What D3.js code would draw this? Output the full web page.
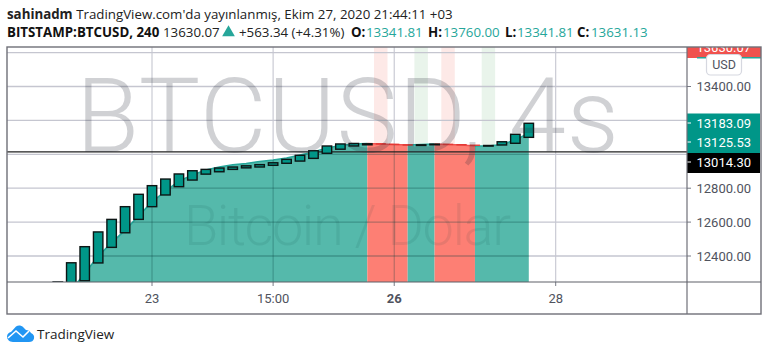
<!DOCTYPE html>
<html><head><meta charset="utf-8">
<script src="https://cdnjs.cloudflare.com/ajax/libs/d3/7.8.5/d3.min.js"></script>
<style>html,body{margin:0;padding:0;background:#fff}svg{display:block}</style>
</head><body><svg id="c" width="768" height="354"></svg>
<script>
// Candle opens (one per 4h bar, index 0 .. 35)
const opens = [12245,12240,12254,12359,12451,12537,12616,12691,12760,12809,12848,12883,12897,12911,12920,12925,12935,12947,12960,12976,13006,13030,13049,13056,13063,13060,13057,13052,13056,13060,13058,13055,13049,13055,13065,13100];
// Candle closes
const closes = [12247,12360,12455,12542,12616,12691,12764,12815,12854,12884,12903,12911,12919,12925,12932,12939,12950,12970,12994,13021,13049,13061,13064,13062,13060,13057,13054,13056,13060,13058,13055,13052,13052,13074,13118,13183];
// Underlying area series
const areaValues = [12100,12199,12297,12400,12477,12553,12636,12719,12783,12842,12878,12907,12925,12938,12946,12958,12966,12978,12996,13014,13037,13052,13061,13064,13061,13058,13055,13058,13061,13058,13055,13049,13049,13058,13084,13125];
// Colour segments of the area, in bar indices
const segStarts = [0,23,26,28,31];
const segEnds = [23,26,28,31,35];
const segColors = ["#55b9ab","#fd7f74","#55b9ab","#fd7f74","#55b9ab"];
// Pale full-height columns
const columnIdx = [24,27,29,32];
const columnColors = ["#fde9e7","#e9f4eb","#fde9e7","#e9f4eb"];
const redBars = [24,25,26,29,30,31];
// Axes
const priceTicks = [13400,12800,12600,12400];
const gridPrices = [13600,13400,13200,13000,12800,12600,12400];
const xTickIdx = [7,16,25,37];
const xTickLabels = ["23","15:00","26","28"];
const lastPriceLabels = ["13183.09","13125.53"];
const closeLine = 13014.30;

const L=7,R=687,T=47,B=282,FR=761,FB=314;
const svg=d3.select("#c");
const RB="Roboto, sans-serif", SANS="'Open Sans','Noto Sans',sans-serif";
const x=d3.scaleLinear().domain([7,37]).range([152,555.7]);
const y=d3.scaleLinear().domain([12400,13400]).range([256,86.5]);
const defs=svg.append("defs");
defs.append("clipPath").attr("id","plot").append("rect").attr("x",L).attr("y",T).attr("width",R-L).attr("height",B-T);
const plot=svg.append("g").attr("clip-path","url(#plot)");
const step=x(1)-x(0);

// pale columns
plot.selectAll(".col").data(columnIdx).join("rect").attr("x",d=>x(d)-step/2).attr("width",step)
 .attr("y",T).attr("height",B-T).attr("fill",(d,i)=>columnColors[i]);
// grid under area is re-tinted by using a translucent line on top
const gridLine=(g,c)=>{
 g.selectAll(".h").data(gridPrices).join("line").attr("x1",L).attr("x2",R).attr("y1",d=>y(d)).attr("y2",d=>y(d)).attr("stroke",c).attr("stroke-width",1.3);
 g.selectAll(".v").data(xTickIdx).join("line").attr("x1",d=>x(d)).attr("x2",d=>x(d)).attr("y1",T).attr("y2",B).attr("stroke",c).attr("stroke-width",1.1);
};
plot.append("g").call(gridLine,"#c5c6d0");
// area
const area=d3.area().x((d,i)=>x(d.i)).y0(B).y1(d=>y(d.v));
const pts=areaValues.map((v,i)=>({i,v}));
segStarts.forEach((s,k)=>{
 plot.append("path").datum(pts.filter(p=>p.i>=s&&p.i<=segEnds[k])).attr("d",area).attr("fill",segColors[k]);
});
// area top edge
const line=d3.line().x(d=>x(d.i)).y(d=>y(d.v));
plot.append("path").datum(pts.filter(p=>p.i<=23)).attr("d",line).attr("fill","none").attr("stroke","#26a69a").attr("stroke-width",1.6);
segStarts.slice(1).forEach((s,k)=>{
 plot.append("path").datum(pts.filter(p=>p.i>=s&&p.i<=segEnds[k+1])).attr("d",line).attr("fill","none")
  .attr("stroke",segColors[k+1]=="#fd7f74"?"#ef5350":"#26a69a").attr("stroke-width",1.6);
});
// darker grid through the area
const gClip=defs.append("clipPath").attr("id","areaClip");
gClip.append("path").datum(pts).attr("d",area);
plot.append("g").attr("clip-path","url(#areaClip)").call(gridLine,"rgba(0,60,60,0.30)");
// watermarks
svg.append("text").attr("x",76).attr("y",152).attr("font-family",RB).attr("font-weight",300).attr("font-size",103)
 .attr("fill","rgba(42,46,57,0.22)").attr("textLength",543).text("BTCUSD, 4s");
svg.append("text").attr("x",184).attr("y",245).attr("font-family",RB).attr("font-weight",300).attr("font-size",56)
 .attr("fill","rgba(0,50,50,0.09)").attr("textLength",327).text("Bitcoin / Dolar");
// close line
plot.append("line").attr("x1",L).attr("x2",R).attr("y1",y(closeLine)).attr("y2",y(closeLine)).attr("stroke","#222").attr("stroke-width",1.2);
// candles
const bw=step-4;
plot.selectAll(".bar").data(opens.map((o,i)=>({i,o,c:closes[i]}))).join("rect")
 .attr("x",d=>x(d.i)-bw/2).attr("width",bw)
 .attr("y",d=>y(Math.max(d.o,d.c))).attr("height",d=>Math.max(0.6,Math.abs(y(d.o)-y(d.c))))
 .attr("fill",d=>redBars.includes(d.i)?"#e53935":"#009688")
 .attr("stroke",d=>redBars.includes(d.i)?"#e53935":"#0c1514").attr("stroke-width",d=>redBars.includes(d.i)?0.8:1.4);

// price axis
const ax=svg.append("g");
ax.append("rect").attr("x",R).attr("y",T).attr("width",FR-R).attr("height",11).attr("fill","#f0524e");
ax.append("rect").attr("x",R+10).attr("y",T+10).attr("width",FR-R-10).attr("height",1.5).attr("fill","#26a69a");
const clip2=defs.append("clipPath").attr("id","lab");clip2.append("rect").attr("x",R).attr("y",T).attr("width",FR-R).attr("height",10);
ax.append("text").attr("clip-path","url(#lab)").attr("x",696.5).attr("y",51.5).attr("font-family",RB).attr("font-size",13).attr("fill","#fff").text("13630.07");
ax.append("rect").attr("x",R).attr("y",113.5).attr("width",FR-R-1).attr("height",39.5).attr("fill","#009688");
ax.append("rect").attr("x",R).attr("y",153).attr("width",FR-R-1).attr("height",20).attr("fill","#000");
const tickYs=[123,142,162];
ax.selectAll(".pt").data(tickYs).join("line").attr("x1",R).attr("x2",R+4).attr("y1",d=>d).attr("y2",d=>d).attr("stroke","#fff");
ax.selectAll(".pl").data(lastPriceLabels).join("text").attr("x",696.5).attr("y",(d,i)=>tickYs[i]+4.7).attr("font-family",RB).attr("font-size",13).attr("fill","#fff").text(d=>d);
ax.append("text").attr("x",696.5).attr("y",166.7).attr("font-family",RB).attr("font-size",13).attr("fill","#fff").text(closeLine.toFixed(2));
ax.selectAll(".t").data(priceTicks).join("line").attr("x1",R).attr("x2",R+4).attr("y1",d=>y(d)).attr("y2",d=>y(d)).attr("stroke","#787b86");
ax.selectAll(".l").data(priceTicks).join("text").attr("x",696.5).attr("y",d=>y(d)+4.7).attr("font-family",RB).attr("font-size",13).attr("fill","#50535e").text(d=>d3.format(".2f")(d));
ax.append("rect").attr("x",706.5).attr("y",54.5).attr("width",35).attr("height",20.5).attr("rx",4).attr("fill","#fff").attr("stroke","#d6d8e0").attr("stroke-width",1.2);
ax.append("text").attr("x",724).attr("y",69).attr("text-anchor","middle").attr("font-family",RB).attr("font-size",12.5).attr("fill","#50535e").text("USD");

// time axis
svg.selectAll(".xt").data(xTickIdx).join("line").attr("x1",d=>x(d)).attr("x2",d=>x(d)).attr("y1",B).attr("y2",B+4).attr("stroke","#787b86");
svg.selectAll(".xl").data(xTickLabels).join("text").attr("x",(d,i)=>x(xTickIdx[i])).attr("y",303).attr("text-anchor","middle")
 .attr("font-family",RB).attr("font-size",13).attr("font-weight",d=>d=="26"?700:400).attr("fill","#50535e").text(d=>d);

// frame
svg.append("rect").attr("x",L).attr("y",T).attr("width",FR-L).attr("height",FB-T).attr("fill","none").attr("stroke","#6f7078").attr("stroke-width",1.4);
svg.append("line").attr("x1",R).attr("x2",R).attr("y1",T).attr("y2",FB).attr("stroke","#6f7078").attr("stroke-width",1.2);
svg.append("line").attr("x1",L).attr("x2",FR).attr("y1",B).attr("y2",B).attr("stroke","#5f6068").attr("stroke-width",1.2);

// header
const H=(tx,ty,s,w,c,fs)=>svg.append("text").attr("x",tx).attr("y",ty).attr("font-family",SANS).attr("font-size",fs||13.3).attr("font-weight",w).attr("fill",c).text(s);
const t1=svg.append("text").attr("x",7).attr("y",18.5).attr("font-family",SANS).attr("font-size",13.3).attr("fill","#222");
t1.append("tspan").attr("font-weight",700).text("sahinadm");
t1.append("tspan").text(" TradingView.com'da yayınlanmış, Ekim 27, 2020 21:44:11 +03");
const hd=["BITSTAMP:BTCUSD, 240","13630.07","+563.34 (+4.31%)","O:","13341.81","H:","13760.00","L:","13341.81","C:","13631.13"];
const hx=[7,163,239,351,366,428,443,505,517,577,591];
const hw=[700,400,400,700,400,700,400,700,400,700,400];
const hc=["#111","#222","#222","#111","#26a69a","#111","#26a69a","#111","#26a69a","#111","#26a69a"];
hd.forEach((s,i)=>H(hx[i],37,s,hw[i],hc[i]));
svg.append("path").attr("d",d3.symbol(d3.symbolTriangle,70)()).attr("transform","translate(228.5,32.5)").attr("fill","#26a69a");

// logo
svg.append("path").attr("fill","#2196f3").attr("d","M13 342 C9 342 7 339 7 336.5 C7 334 9 332.5 11 332 L16 326.5 C18 325 21 325 23 327 L26 330 C28 330 30 331 31 333 C33.5 334 34.5 336 34 338.5 C33.5 341 31.5 342 29 342 Z");
svg.append("path").attr("fill","none").attr("stroke","#fff").attr("stroke-width",1.6).attr("d","M8 338 L16 331 L23 337 L29 331");
svg.append("text").attr("x",37).attr("y",338.5).attr("font-family",SANS).attr("font-size",13.5).attr("fill","#222").text("TradingView");
</script></body></html>
